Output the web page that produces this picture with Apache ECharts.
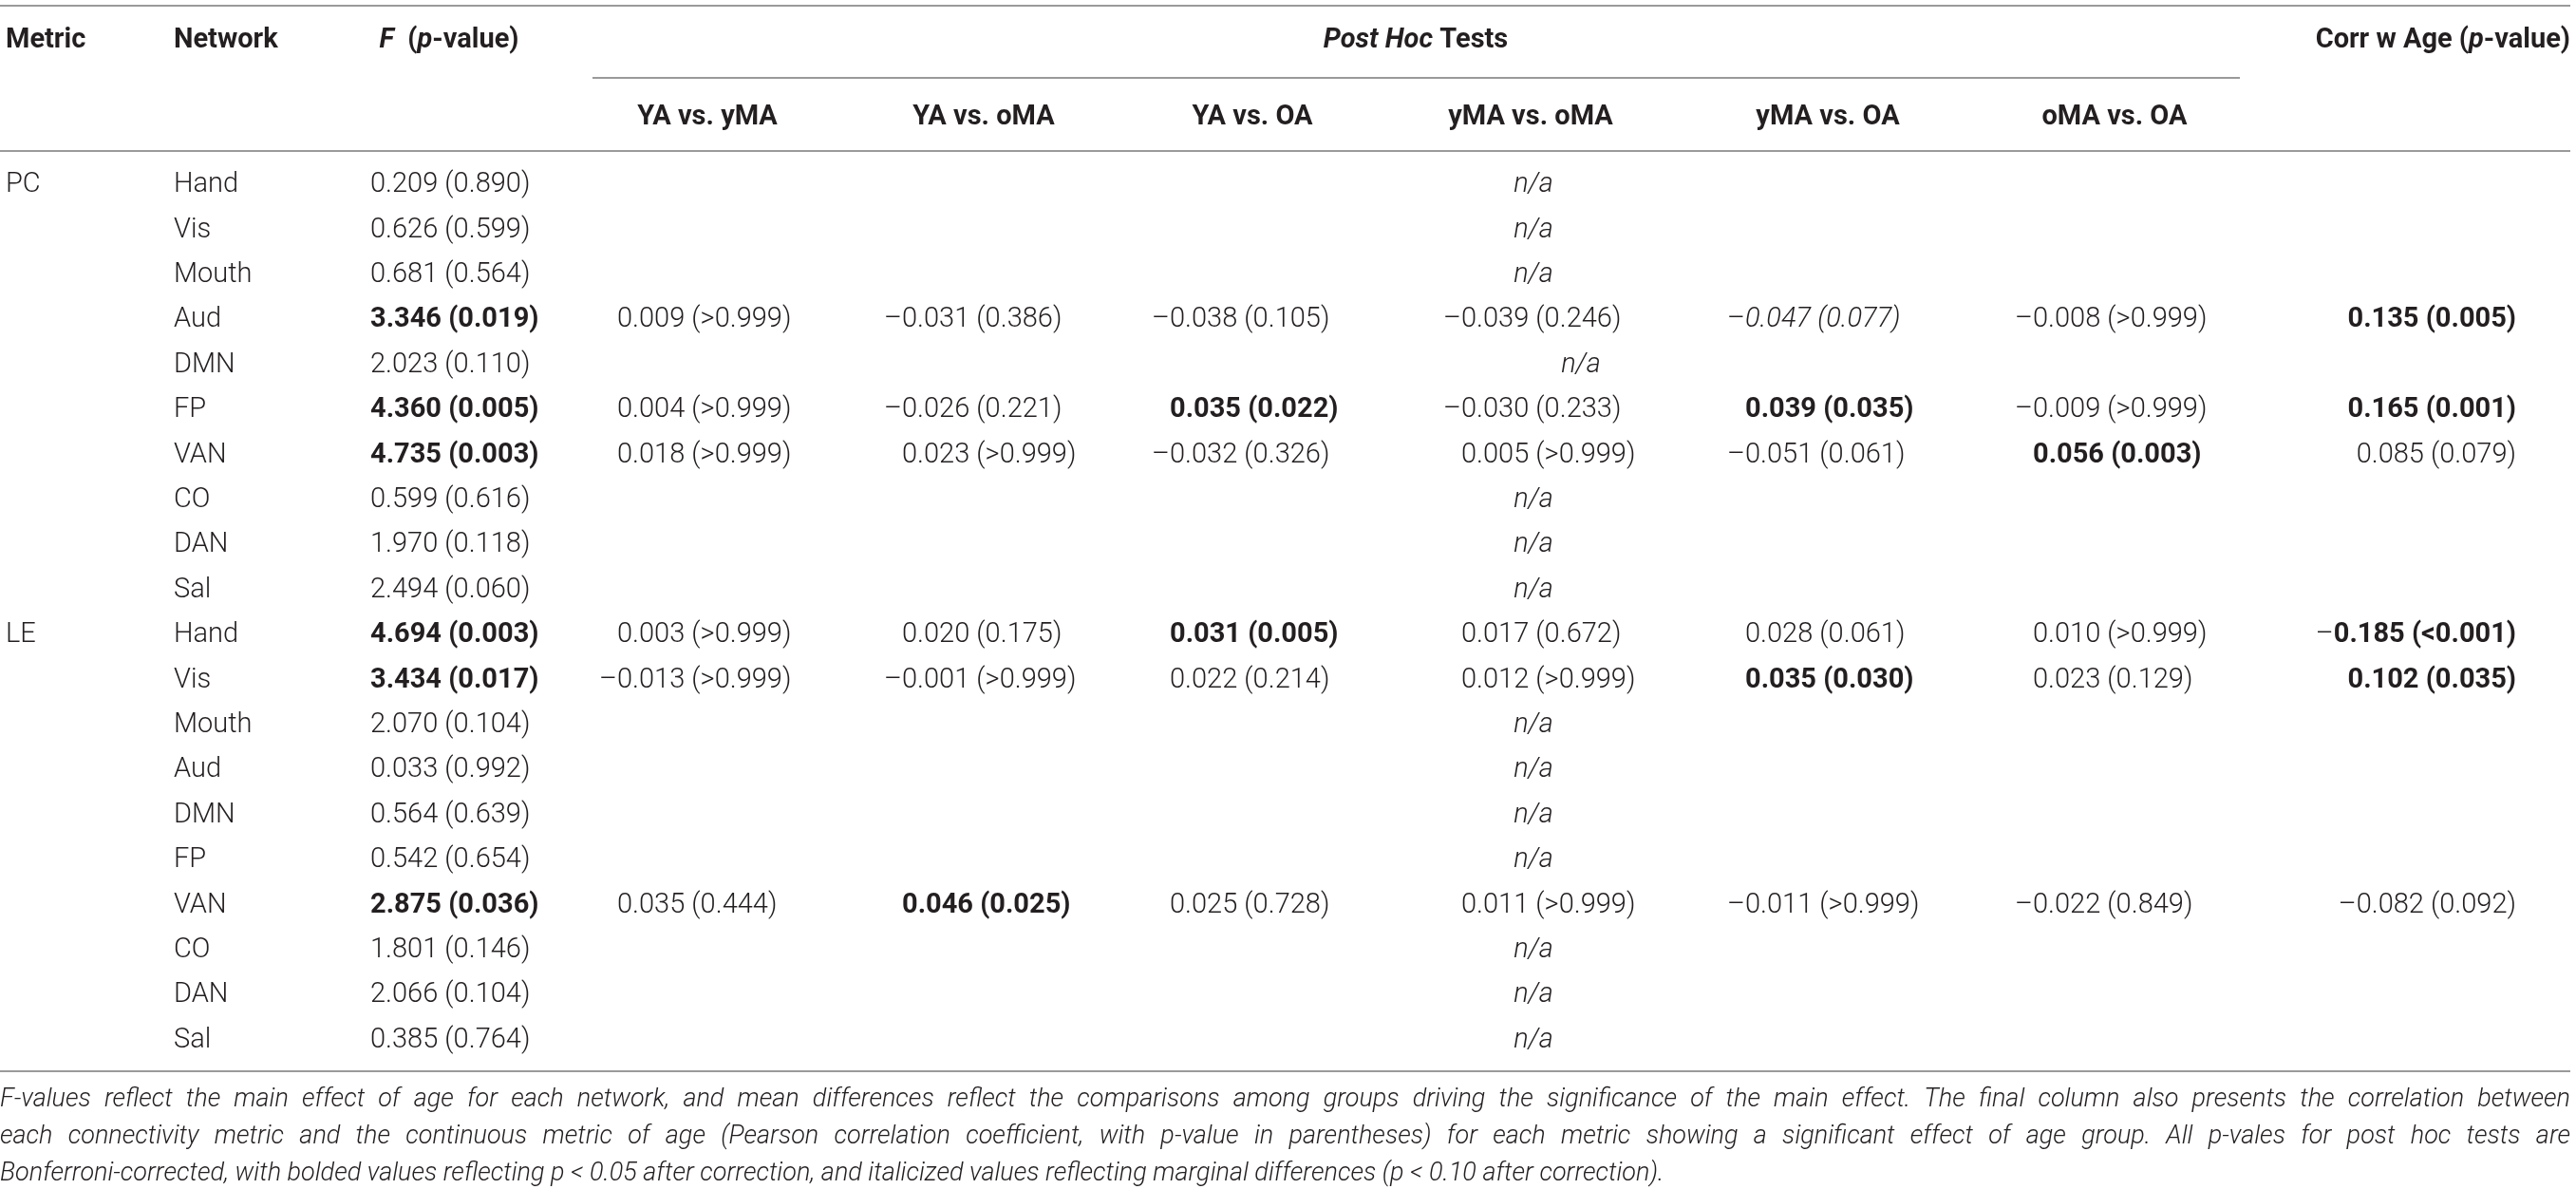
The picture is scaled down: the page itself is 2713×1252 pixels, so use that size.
<!DOCTYPE html>
<html><head><meta charset="utf-8">
<script src="https://cdn.jsdelivr.net/npm/echarts@6/dist/echarts.min.js"></script>
<style>html,body{margin:0;padding:0;background:#fff;overflow:hidden}#c{width:2713px;height:1252px}</style>
</head><body><div id="c"></div>
<script>
// ---------- DATA ----------
const metrics = ['PC', 'LE'];
const networks = ['Hand', 'Vis', 'Mouth', 'Aud', 'DMN', 'FP', 'VAN', 'CO', 'DAN', 'Sal'];
const comparisons = ['YA vs. yMA', 'YA vs. oMA', 'YA vs. OA', 'yMA vs. oMA', 'yMA vs. OA', 'oMA vs. OA'];

const pcF = [0.209, 0.626, 0.681, 3.346, 2.023, 4.360, 4.735, 0.599, 1.970, 2.494];
const pcFp = ['0.890', '0.599', '0.564', '0.019', '0.110', '0.005', '0.003', '0.616', '0.118', '0.060'];
const pcFBold = [0, 0, 0, 1, 0, 1, 1, 0, 0, 0];
const leF = [4.694, 3.434, 2.070, 0.033, 0.564, 0.542, 2.875, 1.801, 2.066, 0.385];
const leFp = ['0.003', '0.017', '0.104', '0.992', '0.639', '0.654', '0.036', '0.146', '0.104', '0.764'];
const leFBold = [1, 1, 0, 0, 0, 0, 1, 0, 0, 0];

const postHocRows = ['PC Aud', 'PC FP', 'PC VAN', 'LE Hand', 'LE Vis', 'LE VAN'];
const postHocDiff = [
  [0.009, -0.031, -0.038, -0.039, -0.047, -0.008],
  [0.004, -0.026, 0.035, -0.030, 0.039, -0.009],
  [0.018, 0.023, -0.032, 0.005, -0.051, 0.056],
  [0.003, 0.020, 0.031, 0.017, 0.028, 0.010],
  [-0.013, -0.001, 0.022, 0.012, 0.035, 0.023],
  [0.035, 0.046, 0.025, 0.011, -0.011, -0.022]
];
const postHocP = [
  ['>0.999', '0.386', '0.105', '0.246', '0.077', '>0.999'],
  ['>0.999', '0.221', '0.022', '0.233', '0.035', '>0.999'],
  ['>0.999', '>0.999', '0.326', '>0.999', '0.061', '0.003'],
  ['>0.999', '0.175', '0.005', '0.672', '0.061', '>0.999'],
  ['>0.999', '>0.999', '0.214', '>0.999', '0.030', '0.129'],
  ['0.444', '0.025', '0.728', '>0.999', '>0.999', '0.849']
];
const postHocStyle = [
  ['n', 'n', 'n', 'n', 'i', 'n'],
  ['n', 'n', 'b', 'n', 'b', 'n'],
  ['n', 'n', 'n', 'n', 'n', 'b'],
  ['n', 'n', 'b', 'n', 'n', 'n'],
  ['n', 'n', 'n', 'n', 'b', 'n'],
  ['n', 'b', 'n', 'n', 'n', 'n']
];
const corrR = [0.135, 0.165, 0.085, -0.185, 0.102, -0.082];
const corrP = ['0.005', '0.001', '0.079', '<0.001', '0.035', '0.092'];
const corrStyle = ['b', 'b', 'n', 'b', 'b', 'n'];
const naLabel = 'n/a';

const footnoteLines = [
  'F-values reflect the main effect of age for each network, and mean differences reflect the comparisons among groups driving the significance of the main effect. The final column also presents the correlation between',
  'each connectivity metric and the continuous metric of age (Pearson correlation coefficient, with p-value in parentheses) for each metric showing a significant effect of age group. All p-vales for post hoc tests are',
  'Bonferroni-corrected, with bolded values reflecting p < 0.05 after correction, and italicized values reflecting marginal differences (p < 0.10 after correction).'
];

// ---------- LAYOUT ----------
const W = 2713, H = 1252;
const INK = '#231f20';
const RULE = '#9a9a9a';
const FAM = 'Roboto, "Liberation Sans", Arial, sans-serif';
const FS = 29;
const ROW_TOP = 171.3, ROW_H = 47.4;
const X_METRIC = 6, X_NETWORK = 183, X_F = 390;
const X_PH = [650, 950, 1232, 1539, 1838, 2141];
const X_PH_HEAD = [745, 1036, 1319, 1612, 1925, 2227];
const X_CORR_RIGHT = 2650;
const X_NA = 1615, X_NA_WIDE = 1665;
const naWideRows = ['PC DMN'];
const RIGHT_EDGE = 2707;

const rowKeys = metrics.flatMap(m => networks.map(n => m + ' ' + n));

const rich = {
  n: { fontFamily: FAM, fontSize: FS, fontWeight: 300, fill: INK },
  b: { fontFamily: FAM, fontSize: FS, fontWeight: 'bold', fill: INK },
  i: { fontFamily: FAM, fontSize: FS, fontWeight: 300, fontStyle: 'italic', fill: INK },
  bi: { fontFamily: FAM, fontSize: FS, fontWeight: 'bold', fontStyle: 'italic', fill: INK }
};

const mctx = document.createElement('canvas').getContext('2d');
function measure(text, font) { mctx.font = font; return mctx.measureText(text).width; }
const DASH = '\u2013';
const dashW = measure(DASH, '300 ' + FS + 'px ' + FAM);

function cellText(v, p, st) {
  const neg = v < 0;
  const body = Math.abs(v).toFixed(3) + ' (' + p + ')';
  return (neg ? '{n|' + DASH + '}' : '') + '{' + st + '|' + body + '}';
}
function txt(x, y, text, align) {
  return { type: 'text', x: x, y: y,
    style: { text: text, rich: rich, align: align, textAlign: align, verticalAlign: 'middle', textVerticalAlign: 'middle' } };
}

function renderRow(params, api) {
  const i = api.value(1);
  const y = api.coord([0, i])[1];
  const mi = Math.floor(i / networks.length);
  const ni = i % networks.length;
  const key = rowKeys[i];
  const children = [];
  if (ni === 0) children.push(txt(X_METRIC, y, '{n|' + metrics[mi] + '}', 'left'));
  children.push(txt(api.coord([X_NETWORK, i])[0], y, '{n|' + networks[ni] + '}', 'left'));
  const fv = mi === 0 ? pcF[ni] : leF[ni];
  const fp = mi === 0 ? pcFp[ni] : leFp[ni];
  const fb = (mi === 0 ? pcFBold[ni] : leFBold[ni]) ? 'b' : 'n';
  children.push(txt(api.coord([X_F, i])[0], y, '{' + fb + '|' + fv.toFixed(3) + ' (' + fp + ')}', 'left'));
  const ph = postHocRows.indexOf(key);
  if (ph < 0) {
    const nx = naWideRows.indexOf(key) >= 0 ? X_NA_WIDE : X_NA;
    children.push(txt(api.coord([nx, i])[0], y, '{i|' + naLabel + '}', 'center'));
  } else {
    for (let c = 0; c < comparisons.length; c++) {
      const v = postHocDiff[ph][c];
      const x = api.coord([X_PH[c], i])[0] - (v < 0 ? dashW : 0);
      children.push(txt(x, y, cellText(v, postHocP[ph][c], postHocStyle[ph][c]), 'left'));
    }
    children.push(txt(api.coord([X_CORR_RIGHT, i])[0], y, cellText(corrR[ph], corrP[ph], corrStyle[ph]), 'right'));
  }
  return { type: 'group', children: children };
}

// ---------- HEADER / RULES / FOOTNOTE (graphic) ----------
const graphics = [];
function gLine(x1, y1, x2, y2) {
  graphics.push({ type: 'line', shape: { x1: x1, y1: y1, x2: x2, y2: y2 }, style: { stroke: RULE, lineWidth: 2 }, silent: true });
}
function gText(x, y, text, align) {
  graphics.push({ type: 'text', x: x, y: y,
    style: { text: text, rich: rich, align: align, textAlign: align, verticalAlign: 'middle', textVerticalAlign: 'middle' } });
}
const HEAD1_Y = 43, HEAD2_Y = 124;
gLine(0, 6, RIGHT_EDGE, 6);
gLine(624, 82, 2359, 82);
gLine(0, 159, RIGHT_EDGE, 159);
gLine(0, 1128, RIGHT_EDGE, 1128);
gText(X_METRIC, HEAD1_Y, '{b|Metric}', 'left');
gText(X_NETWORK, HEAD1_Y, '{b|Network}', 'left');
gText(473, HEAD1_Y, '{bi|F}{b|  (}{bi|p}{b|-value)}', 'center');
gText(1491, HEAD1_Y, '{bi|Post Hoc}{b| Tests}', 'center');
gText(RIGHT_EDGE, HEAD1_Y, '{b|Corr w Age (}{bi|p}{b|-value)}', 'right');
comparisons.forEach((c, k) => gText(X_PH_HEAD[k], HEAD2_Y, '{b|' + c + '}', 'center'));

const FN_FS = 27;
const FN_FONT = 'italic 300 ' + FN_FS + 'px ' + FAM;
const FN_Y = [1158, 1197, 1236];
footnoteLines.forEach((line, li) => {
  const justify = li < footnoteLines.length - 1;
  if (!justify) {
    graphics.push({ type: 'text', x: 0, y: FN_Y[li],
      style: { text: line, font: FN_FONT, fill: INK, align: 'left', textAlign: 'left', verticalAlign: 'middle', textVerticalAlign: 'middle' } });
    return;
  }
  const words = line.split(' ');
  const ws = words.map(w => measure(w, FN_FONT));
  const total = ws.reduce((a, b) => a + b, 0);
  const gap = (RIGHT_EDGE - total) / (words.length - 1);
  let x = 0;
  words.forEach((w, k) => {
    graphics.push({ type: 'text', x: x, y: FN_Y[li],
      style: { text: w, font: FN_FONT, fill: INK, align: 'left', textAlign: 'left', verticalAlign: 'middle', textVerticalAlign: 'middle' } });
    x += ws[k] + gap;
  });
});

// ---------- CHART ----------
const chart = echarts.init(document.getElementById('c'), null, { renderer: 'canvas' });
chart.setOption({
  animation: false,
  backgroundColor: '#ffffff',
  grid: { left: 0, right: 0, top: ROW_TOP, height: ROW_H * rowKeys.length },
  xAxis: { type: 'value', min: 0, max: W, show: false },
  yAxis: { type: 'category', data: rowKeys, inverse: true, show: false },
  series: [{
    type: 'custom',
    clip: false,
    renderItem: renderRow,
    encode: { x: 0, y: 1 },
    data: rowKeys.map((k, i) => [0, i])
  }],
  graphic: { elements: graphics }
});
</script>
</body></html>
